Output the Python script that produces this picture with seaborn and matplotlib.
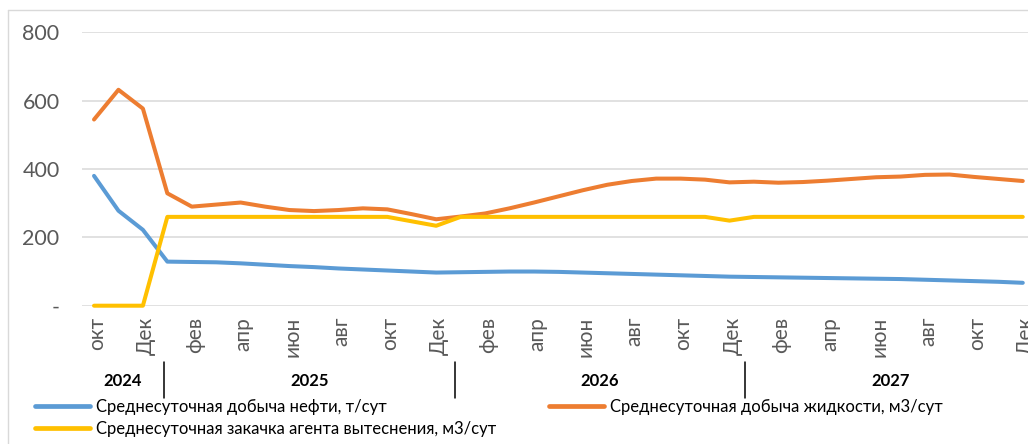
import matplotlib
matplotlib.use("Agg")
import matplotlib.pyplot as plt
import matplotlib.transforms as mtransforms
from matplotlib.lines import Line2D
import numpy as np
import pandas as pd
import seaborn as sns

# Monthly series, October 2024 .. December 2027
month_names = ["окт", "ноя", "Дек",
               "янв", "фев", "мар", "апр", "май", "июн", "июл", "авг", "сен", "окт", "ноя", "Дек",
               "янв", "фев", "мар", "апр", "май", "июн", "июл", "авг", "сен", "окт", "ноя", "Дек",
               "янв", "фев", "мар", "апр", "май", "июн", "июл", "авг", "сен", "окт", "ноя", "Дек"]
years = ["2024", "2025", "2026", "2027"]

oil = [380, 278, 222,
       129, 128, 127, 124, 120, 116, 113, 109, 106, 103, 100, 97,
       98, 99, 100, 100, 99, 97, 95, 93, 91, 89, 87, 85,
       84, 83, 82, 81, 80, 79, 78, 76, 74, 72, 70, 67]
liquid = [545, 632, 577,
          329, 290, 296, 302, 290, 280, 277, 280, 285, 282, 268, 253,
          261, 270, 285, 302, 320, 338, 354, 365, 372, 372, 369, 361,
          363, 360, 362, 366, 371, 376, 378, 383, 384, 377, 371, 365]
injection = [0, 0, 0,
             260, 260, 260, 260, 260, 260, 260, 260, 260, 260, 247, 234,
             260, 260, 260, 260, 260, 260, 260, 260, 260, 260, 260, 249,
             260, 260, 260, 260, 260, 260, 260, 260, 260, 260, 260, 260]

series_names = ["Среднесуточная добыча нефти, т/сут",
                "Среднесуточная добыча жидкости, м3/сут",
                "Среднесуточная закачка агента вытеснения, м3/сут"]
colors = ["#5B9BD5", "#ED7D31", "#FFC000"]

n = len(month_names)
df = pd.concat([
    pd.DataFrame({"idx": np.arange(n), "value": vals, "series": name})
    for name, vals in zip(series_names, [oil, liquid, injection])
])

sns.set_theme(style="white")
plt.rcParams["font.family"] = ["Lato", "DejaVu Sans"]

W, H = 1028, 444
fig = plt.figure(figsize=(W / 100, H / 100), dpi=100)
fig.patch.set_facecolor("white")

# plot area in pixel terms
left_px, right_px, top_px, bottom_px = 81.8, 1035.0, 32.4, 305.7
ax = fig.add_axes([left_px / W, 1 - bottom_px / H,
                   (right_px - left_px) / W, (bottom_px - top_px) / H])

sns.lineplot(data=df, x="idx", y="value", hue="series", hue_order=series_names,
             palette=colors, linewidth=2.9, solid_capstyle="round",
             solid_joinstyle="round", legend=False, ax=ax, zorder=3, clip_on=False)

ax.set_xlim(-0.5, n - 0.5)
ax.set_ylim(0, 800)
ax.set_yticks([0, 200, 400, 600, 800])
ax.set_yticklabels(["-", "200", "400", "600", "800"])
ax.set_xticks(np.arange(0, n, 2))
ax.set_xticklabels([month_names[i] for i in range(0, n, 2)], rotation=90)
ax.set_xlabel("")
ax.set_ylabel("")
for s in ax.spines.values():
    s.set_visible(False)
ax.grid(axis="y", color="#D9D9D9", linewidth=1.1)
ax.grid(axis="x", visible=False)
ax.set_axisbelow(True)
ax.tick_params(axis="y", length=0, pad=16, labelsize=15.5, labelcolor="#595959")
ax.tick_params(axis="x", length=0, pad=8, labelsize=15, labelcolor="#595959")
offset = mtransforms.ScaledTranslation(3 / 100, 0, fig.dpi_scale_trans)
for lab in ax.get_xticklabels():
    lab.set_verticalalignment("top")
    lab.set_transform(lab.get_transform() + offset)

# year groups under the month labels
blend = mtransforms.blended_transform_factory(ax.transData, fig.transFigure)
year_breaks = [2.88, 14.76, 26.65]
edges = [-0.5] + year_breaks + [n - 0.5]
for i, yr in enumerate(years):
    xc = (edges[i] + edges[i + 1]) / 2
    ax.text(xc, 1 - 381 / H, yr, transform=blend, ha="center", va="center",
            fontsize=12, fontweight="bold", color="black")
for xb in year_breaks:
    fig.add_artist(Line2D([xb, xb], [1 - 362 / H, 1 - 398 / H], transform=blend,
                          color="black", linewidth=1.1))

# chart frame
fig.add_artist(Line2D([8 / W, 8 / W], [1 - 10 / H, 0], transform=fig.transFigure,
                      color="#D9D9D9", linewidth=1.0))
fig.add_artist(Line2D([8 / W, 1], [1 - 10 / H, 1 - 10 / H], transform=fig.transFigure,
                      color="#D9D9D9", linewidth=1.0))

# legend: two columns below the chart
handles = [Line2D([], [], color=c, linewidth=3.4, solid_capstyle="round") for c in colors]
leg_kw = dict(frameon=False, fontsize=12, handlelength=3.3, handletextpad=0.33,
              borderpad=0, borderaxespad=0, labelspacing=0.36, loc="upper left",
              bbox_transform=fig.transFigure)
leg1 = fig.legend([handles[0], handles[2]], [series_names[0], series_names[2]],
                  bbox_to_anchor=(35 / W, 1 - 399 / H), **leg_kw)
leg2 = fig.legend([handles[1]], [series_names[1]],
                  bbox_to_anchor=(549 / W, 1 - 399 / H), **leg_kw)
for leg in (leg1, leg2):
    for t in leg.get_texts():
        t.set_color("black")

fig.savefig("out.png", dpi=100, facecolor="white")
